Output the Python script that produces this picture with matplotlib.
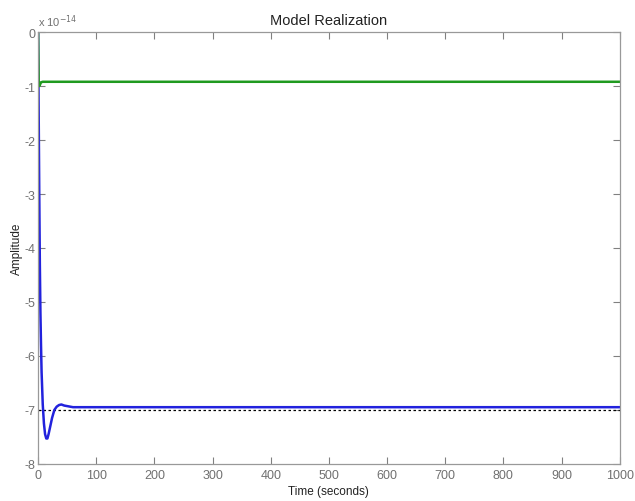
import matplotlib
matplotlib.use("Agg")
import matplotlib.pyplot as plt

plt.rcParams['font.family'] = ['Liberation Sans', 'DejaVu Sans']

# Data (amplitude in units of 1e-14)
t_blue = [0, 1, 2, 3, 4, 5, 6, 8, 10, 12, 14, 16, 18, 20, 24, 28, 32, 36, 40, 45, 50, 55, 60, 1000]
y_blue = [0, -1.5, -3.0, -4.3, -5.2, -5.8, -6.3, -6.9, -7.25, -7.45, -7.53, -7.53, -7.45, -7.35,
          -7.15, -7.0, -6.94, -6.91, -6.9, -6.92, -6.93, -6.94, -6.95, -6.95]
t_green = [0, 0.5, 1, 2, 3, 5, 8, 1000]
y_green = [0, -0.5, -0.9, -1.0, -0.98, -0.93, -0.92, -0.92]
ref_level = -7
xticks = [0, 100, 200, 300, 400, 500, 600, 700, 800, 900, 1000]
yticks = [0, -1, -2, -3, -4, -5, -6, -7, -8]

fig = plt.figure(figsize=(6.35, 5.02), dpi=100)
ax = fig.add_axes([0.060, 0.074, 0.916, 0.860])

ax.axhline(ref_level, color='black', linestyle=(0, (2, 2)), linewidth=0.9)
ax.plot(t_blue, y_blue, color='#2222dd', linewidth=1.8)
ax.plot(t_green, y_green, color='#1f9a1f', linewidth=1.8)

ax.set_xlim(0, 1000)
ax.set_ylim(-8, 0)
ax.set_xticks(xticks)
ax.set_yticks(yticks)
ax.set_yticklabels([str(v) for v in yticks])
ax.tick_params(direction='in', top=True, right=True, length=5, width=0.8,
               colors='#808080', labelsize=9, labelcolor='#707070')
ax.tick_params(axis='y', pad=2)
for s in ax.spines.values():
    s.set_color('#999999')
    s.set_linewidth(0.9)

ax.set_title('Model Realization', fontsize=10.5, color='#222222', pad=6)
ax.set_xlabel('Time (seconds)', fontsize=8.5, color='#222222', labelpad=3)
ax.set_ylabel('Amplitude', fontsize=8.5, color='#222222')
ax.yaxis.set_label_coords(-0.026, 0.5)
ax.text(0.0, 1.008, r'x 10$^{-14}$', transform=ax.transAxes, fontsize=8, color='#707070',
        ha='left', va='bottom')

fig.savefig('out.png', dpi=100, facecolor='white')
